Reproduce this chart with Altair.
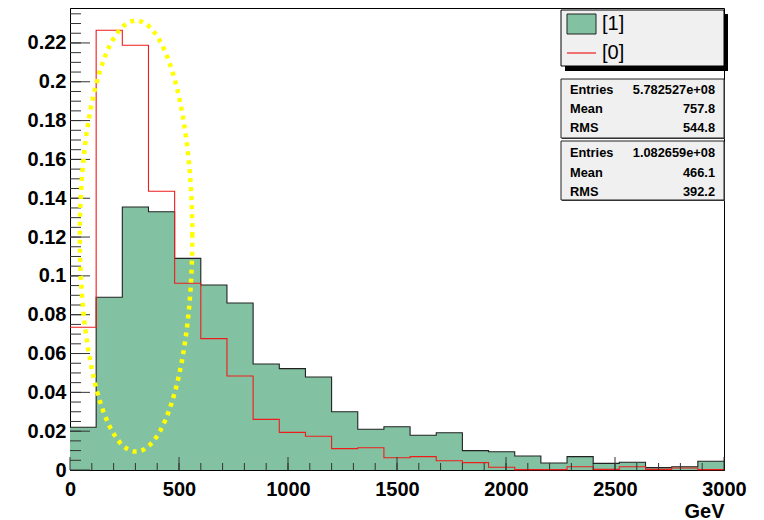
import altair as alt
import pandas as pd
import numpy as np

# ---- data ----
bin_edges = [0, 120, 240, 360, 480, 600, 720, 840, 960, 1080, 1200, 1320, 1440,
             1560, 1680, 1800, 1920, 2040, 2160, 2280, 2400, 2520, 2640, 2760, 2880, 3000]
green_vals = [0.022, 0.089, 0.1355, 0.133, 0.109, 0.0953, 0.086, 0.0546, 0.0522, 0.0479,
              0.030, 0.021, 0.0223, 0.0179, 0.0192, 0.0100, 0.0094, 0.0072, 0.0036, 0.0069,
              0.0034, 0.0040, 0.0012, 0.0017, 0.0045]
red_vals = [0.0735, 0.2265, 0.2188, 0.1436, 0.0962, 0.0677, 0.0484, 0.0261, 0.0194, 0.0174,
            0.0110, 0.0115, 0.0063, 0.0069, 0.0048, 0.0038, 0.0014, 0.0002, 0.0002, 0.0017,
            0.0003, 0.0017, 0.0003, 0.0010, 0.0002]
x_labels = [0, 500, 1000, 1500, 2000, 2500, 3000]
y_labels = [0, 0.02, 0.04, 0.06, 0.08, 0.1, 0.12, 0.14, 0.16, 0.18, 0.2, 0.22]
legend_names = ["[1]", "[0]"]
stats_names = ["Entries", "Mean", "RMS"]
stats_green = ["5.782527e+08", "757.8", "544.8"]
stats_red = ["1.082659e+08", "466.1", "392.2"]
ellipse_center = (303, 0.1205)
ellipse_radii = (258, 0.111)

XMAX = 3000
YMAX = 0.238
GREEN = "#82c2a2"
RED = "#ee1c1c"
FONT = "Liberation Sans"

xs = alt.Scale(domain=[0, XMAX], nice=False, zero=False)
ys = alt.Scale(domain=[0, YMAX], nice=False, zero=False)

green_df = pd.DataFrame({"x": bin_edges, "y": green_vals + [green_vals[-1]]})
red_df = pd.DataFrame({"x": bin_edges, "y": red_vals + [red_vals[-1]]})

green_area = alt.Chart(green_df).mark_area(
    interpolate="step-after", color=GREEN, opacity=1,
    line={"color": "#222222", "strokeWidth": 1.1}
).encode(
    x=alt.X("x:Q", scale=xs, axis=alt.Axis(
        values=x_labels, title="GeV", format="d", labelFont=FONT, labelFontWeight="bold",
        labelFontSize=20, labelColor="black", ticks=False, tickSize=0,
        labelPadding=9, grid=False, domainColor="black", labelFlush=False,
        titleFont=FONT, titleFontWeight="bold", titleFontSize=20, titleColor="black",
        titleAnchor="end", titleAlign="right", titleX=654, titleY=47,
        titleBaseline="alphabetic")),
    y=alt.Y("y:Q", scale=ys, axis=alt.Axis(
        values=y_labels, title=None, format=".2~f", labelFont=FONT,
        labelFontWeight="bold", labelFontSize=20, labelColor="black",
        ticks=False, tickSize=0, labelPadding=4, grid=False, domainColor="black"))
)

red_line = alt.Chart(red_df).mark_line(
    interpolate="step-after", color=RED, strokeWidth=1.1
).encode(x=alt.X("x:Q", scale=xs), y=alt.Y("y:Q", scale=ys))

# axis ticks drawn inside the frame (ROOT style)
ymajor = pd.DataFrame({"v": y_labels})
yminor = pd.DataFrame({"v": [round(v, 4) for v in np.arange(0.005, YMAX, 0.005)]})
xmajor = pd.DataFrame({"v": x_labels})
xminor = pd.DataFrame({"v": list(range(100, XMAX, 100))})
TICK = "#333333"
ytick_major = alt.Chart(ymajor).mark_rule(color=TICK, strokeWidth=1).encode(
    y=alt.Y("v:Q", scale=ys), x=alt.value(0), x2=alt.value(20))
ytick_minor = alt.Chart(yminor).mark_rule(color=TICK, strokeWidth=1).encode(
    y=alt.Y("v:Q", scale=ys), x=alt.value(0), x2=alt.value(11))
xtick_major = alt.Chart(xmajor).mark_rule(color=TICK, strokeWidth=1).encode(
    x=alt.X("v:Q", scale=xs), y=alt.value(462), y2=alt.value(449))
xtick_minor = alt.Chart(xminor).mark_rule(color=TICK, strokeWidth=1).encode(
    x=alt.X("v:Q", scale=xs), y=alt.value(462), y2=alt.value(455))

# yellow dotted ellipse annotation
t = np.linspace(0, 2 * np.pi, 241)
ell_df = pd.DataFrame({
    "x": ellipse_center[0] + ellipse_radii[0] * np.cos(t),
    "y": ellipse_center[1] + ellipse_radii[1] * np.sin(t),
    "o": np.arange(len(t)),
})
ellipse = alt.Chart(ell_df).mark_line(
    color="#ffff00", strokeWidth=4.5, strokeDash=[4, 5], strokeCap="butt"
).encode(x=alt.X("x:Q", scale=xs), y=alt.Y("y:Q", scale=ys), order="o:Q")

one = alt.Data(values=[{}])


def rect(x1, y1, x2, y2, fill, stroke=None, sw=1):
    kw = {"fill": fill}
    if stroke:
        kw.update(stroke=stroke, strokeWidth=sw)
    return alt.Chart(one).mark_rect(**kw).encode(
        x=alt.value(x1), x2=alt.value(x2), y=alt.value(y1), y2=alt.value(y2))


def text(x, y, s, size, weight="normal", align="left"):
    return alt.Chart(one).mark_text(
        text=s, font=FONT, fontSize=size, fontWeight=weight, align=align,
        baseline="middle", color="black"
    ).encode(x=alt.value(x), y=alt.value(y))


# legend box
legend_layers = [
    rect(495, 6, 658, 63, "black"),
    rect(491, 2, 654, 58, "#f0f0f0", "black", 1),
    rect(497, 6, 526, 26, GREEN, "#222222", 1),
    alt.Chart(one).mark_rule(color=RED, strokeWidth=1.2).encode(
        x=alt.value(497), x2=alt.value(526), y=alt.value(45)),
    text(532, 16, legend_names[0], 20),
    text(532, 45, legend_names[1], 20),
]

# stats boxes
stat_layers = [
    rect(492, 72, 655, 131, "#444444"),
    rect(491, 71, 654, 130, "#f0f0f0", "#222222", 1),
    rect(492, 134, 655, 193, "#444444"),
    rect(491, 133, 654, 192, "#f0f0f0", "#222222", 1),
]
for i, (name, val) in enumerate(zip(stats_names, stats_green)):
    yy = 82 + i * 19
    stat_layers.append(text(500, yy, name, 12.8, "bold"))
    stat_layers.append(text(645, yy, val, 12.8, "bold", "right"))
for i, (name, val) in enumerate(zip(stats_names, stats_red)):
    yy = 145 + i * 19.5
    stat_layers.append(text(500, yy, name, 12.8, "bold"))
    stat_layers.append(text(645, yy, val, 12.8, "bold", "right"))

chart = alt.layer(
    green_area, red_line, ytick_minor, ytick_major, xtick_minor, xtick_major,
    ellipse, *legend_layers, *stat_layers
).properties(
    width=654, height=462,
    autosize=alt.AutoSizeParams(type="none"),
    padding={"left": 62, "top": 0, "right": 32, "bottom": 50},
    background="white",
).configure_view(stroke="black", strokeWidth=1)

chart.save("out.html", embed_options={"renderer": "svg", "actions": False})
